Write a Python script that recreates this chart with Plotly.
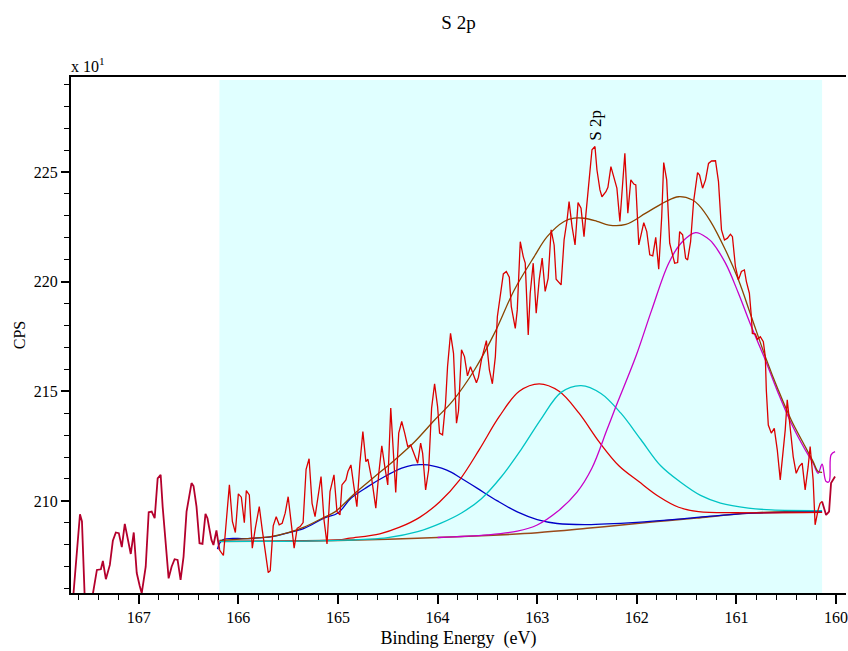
import plotly.graph_objects as go

# ---------------- data ----------------
# raw spectrum outside fitting region (left part)
be_left = [167.66, 167.59, 167.57, 167.54, 167.47, 167.42, 167.38, 167.36, 167.33, 167.29,
           167.26, 167.23, 167.20, 167.17, 167.14, 167.11, 167.08, 167.05, 167.02, 166.99,
           166.97, 166.93, 166.90, 166.87, 166.84, 166.81, 166.78, 166.76, 166.73, 166.70,
           166.67, 166.64, 166.61, 166.58, 166.55, 166.52, 166.47, 166.45, 166.42, 166.39,
           166.36, 166.33, 166.31, 166.27, 166.25, 166.22, 166.19]
cps_left = [205.5, 209.39, 209.06, 205.3, 205.5, 206.85, 206.88, 207.26, 206.43, 207.08,
            208.18, 208.56, 208.53, 207.89, 208.95, 208.34, 207.58, 208.56, 206.71, 206.12,
            205.79, 207.0, 209.48, 209.51, 209.21, 211.03, 211.19, 209.74, 208.14, 206.47,
            207.0, 207.34, 207.31, 206.40, 207.46, 209.51, 210.81, 210.68, 209.74, 208.07,
            208.04, 209.41, 209.21, 208.22, 207.99, 208.65, 207.77]

# raw spectrum inside the fitting region
be_data = [166.19, 166.17, 166.15, 166.12, 166.09, 166.06, 166.03, 166.00, 165.97, 165.94,
           165.92, 165.89, 165.86, 165.83, 165.79, 165.76, 165.73, 165.70, 165.68, 165.65,
           165.62, 165.59, 165.56, 165.53, 165.50, 165.47, 165.44, 165.41, 165.38, 165.35,
           165.32, 165.29, 165.26, 165.23, 165.20, 165.17, 165.14, 165.11, 165.08, 165.04,
           165.01, 164.98, 164.96, 164.92, 164.90, 164.87, 164.84, 164.81, 164.78, 164.75,
           164.72, 164.70, 164.66, 164.62, 164.59, 164.56, 164.53, 164.50, 164.47, 164.45,
           164.42, 164.39, 164.36, 164.33, 164.30, 164.27, 164.24, 164.20, 164.17, 164.15,
           164.12, 164.09, 164.06, 164.03, 164.00, 163.98, 163.95, 163.92, 163.90, 163.87,
           163.84, 163.81, 163.79, 163.76, 163.73, 163.70, 163.67, 163.64, 163.61, 163.59,
           163.56, 163.51, 163.48, 163.45, 163.42, 163.40, 163.37, 163.34, 163.31, 163.28,
           163.26, 163.22, 163.20, 163.17, 163.14, 163.12, 163.09, 163.07, 163.04, 163.01,
           162.98, 162.95, 162.92, 162.89, 162.86, 162.83, 162.81, 162.76, 162.73, 162.70,
           162.68, 162.65, 162.62, 162.59, 162.56, 162.53, 162.51, 162.48, 162.45, 162.42,
           162.40, 162.37, 162.35, 162.31, 162.29, 162.26, 162.23, 162.20, 162.17, 162.14,
           162.12, 162.09, 162.06, 162.03, 162.01, 161.98, 161.95, 161.93, 161.90, 161.87,
           161.84, 161.81, 161.78, 161.75, 161.73, 161.70, 161.67, 161.64, 161.62, 161.59,
           161.57, 161.54, 161.51, 161.49, 161.46, 161.43, 161.39, 161.37, 161.34, 161.31,
           161.28, 161.25, 161.21, 161.18, 161.15, 161.12, 161.09, 161.06, 161.04, 161.01,
           160.98, 160.95, 160.92, 160.90, 160.87, 160.85, 160.84, 160.81, 160.79, 160.76,
           160.73, 160.71, 160.70, 160.68, 160.65, 160.62, 160.59, 160.56, 160.54, 160.51,
           160.49, 160.46, 160.43, 160.40, 160.37, 160.34, 160.31, 160.28, 160.26, 160.23,
           160.21, 160.18, 160.16, 160.14]
cps_data = [207.77, 207.62, 207.51, 209.13, 210.73, 209.06, 208.56, 210.32, 210.17, 209.01,
            210.47, 210.27, 207.84, 208.75, 209.74, 208.68, 207.62, 206.73, 206.82, 208.86,
            209.28, 208.91, 208.98, 209.44, 210.19, 208.98, 207.84, 208.75, 208.83, 209.01,
            211.44, 211.92, 209.89, 209.28, 210.27, 211.11, 209.13, 208.04, 210.42, 211.19,
            209.51, 209.36, 210.73, 210.96, 211.34, 211.64, 210.65, 209.74, 211.72, 213.16,
            211.79, 211.90, 210.96, 209.67, 211.26, 212.51, 211.56, 210.73, 214.23, 212.48,
            210.38, 213.09, 213.62, 213.09, 212.48, 212.55, 212.17, 211.72, 212.63, 212.17,
            210.50, 211.41, 214.23, 215.34, 214.30, 213.09, 213.01, 214.45, 216.12, 217.64,
            216.73, 213.54, 214.10, 216.89, 216.58, 215.70, 216.12, 215.74, 215.39, 215.64,
            216.43, 217.31, 215.97, 215.34, 216.58, 218.40, 219.47, 220.35, 220.46, 220.20,
            218.86, 217.87, 218.71, 221.82, 221.14, 220.84, 217.57, 219.47, 220.84, 218.56,
            220.08, 221.07, 219.55, 220.15, 222.36, 221.67, 220.11, 219.85, 221.90, 222.81,
            223.65, 222.51, 221.67, 223.60, 223.35, 222.05, 223.12, 224.41, 226.01, 226.16,
            225.09, 224.18, 223.87, 224.10, 224.30, 225.24, 224.79, 224.26, 222.74, 224.86,
            225.85, 223.12, 224.64, 224.45, 224.41, 221.67, 222.36, 222.69, 222.28, 221.22,
            221.17, 222.02, 220.57, 222.96, 225.43, 224.64, 221.75, 221.14, 220.84, 220.87,
            222.28, 222.13, 221.07, 220.99, 221.82, 223.65, 224.97, 224.86, 224.26, 224.64,
            225.39, 225.50, 225.51, 224.56, 222.36, 221.90, 221.98, 222.16, 222.05, 220.68,
            220.08, 220.46, 220.53, 220.00, 219.47, 218.40, 217.64, 217.61, 217.37, 217.49,
            217.26, 216.58, 215.06, 213.46, 213.09, 213.31, 212.33, 210.96, 211.87, 213.24,
            214.61, 213.39, 212.02, 211.26, 211.56, 211.72, 210.50, 211.56, 212.48, 210.96,
            208.91, 209.59, 209.89, 209.97]

# raw spectrum outside fitting region (right part)
be_right = [160.14, 160.10, 160.07, 160.05, 160.01]
cps_right = [209.97, 209.36, 209.51, 210.81, 211.11]

# Shirley background
be_bg = [166.19, 165.5, 165.0, 164.5, 164.0, 163.5, 163.0, 162.5, 162.0, 161.7,
         161.4, 161.1, 160.8, 160.5, 160.14]
cps_bg = [208.15, 208.17, 208.20, 208.25, 208.33, 208.42, 208.55, 208.75, 208.97, 209.10,
          209.22, 209.36, 209.46, 209.50, 209.50]

# component 1 (blue)
be_c1 = [166.21, 166.16, 165.91, 165.66, 165.51, 165.34, 165.14, 165.00, 164.87, 164.70,
         164.53, 164.36, 164.25, 164.15, 164.05, 163.96, 163.86, 163.78, 163.60, 163.40,
         163.20, 163.00, 162.80, 162.50, 162.00, 161.50, 161.00, 160.50, 160.14]
cps_c1 = [207.80, 208.22, 208.28, 208.37, 208.53, 208.75, 209.21, 209.45, 210.12, 210.65,
          211.11, 211.49, 211.63, 211.65, 211.60, 211.49, 211.30, 211.08, 210.57, 210.00,
          209.50, 209.15, 208.97, 208.92, 209.02, 209.20, 209.40, 209.48, 209.50]

# component 2 (red)
be_c2 = [166.19, 165.00, 164.88, 164.58, 164.38, 164.18, 163.98, 163.78, 163.58, 163.38,
         163.18, 162.98, 162.78, 162.58, 162.38, 162.18, 161.98, 161.78, 161.58, 161.38,
         161.00, 160.14]
cps_c2 = [208.15, 208.22, 208.30, 208.50, 208.80, 209.25, 209.95, 210.95, 212.35, 213.85,
          215.00, 215.34, 215.00, 214.00, 212.70, 211.60, 210.88, 210.20, 209.71, 209.51,
          209.46, 209.48]

# component 3 (cyan)
be_c3 = [166.19, 165.00, 164.50, 164.20, 163.96, 163.76, 163.56, 163.36, 163.16, 162.96,
         162.76, 162.56, 162.36, 162.16, 161.96, 161.76, 161.56, 161.36, 161.16, 160.88,
         160.65, 160.14]
cps_c3 = [208.15, 208.20, 208.33, 208.60, 209.00, 209.45, 210.10, 211.10, 212.35, 213.74,
          214.95, 215.26, 214.90, 214.00, 212.80, 211.60, 210.85, 210.25, 209.90, 209.67,
          209.59, 209.56]

# component 4 (magenta)
be_c4 = [164.00, 163.50, 163.20, 163.00, 162.80, 162.60, 162.45, 162.30, 162.21, 162.01,
         161.85, 161.68, 161.55, 161.41, 161.29, 161.25, 161.11, 160.98, 160.85, 160.71,
         160.58, 160.45, 160.31, 160.23, 160.18, 160.14, 160.10, 160.07, 160.05, 160.01]
cps_c4 = [208.33, 208.45, 208.62, 208.90, 209.50, 210.40, 211.50, 213.24, 214.30, 216.58,
          218.71, 220.84, 221.78, 222.23, 221.98, 221.82, 220.84, 219.47, 217.95, 216.43,
          214.91, 213.54, 212.33, 211.72, 211.26, 211.67, 210.88, 210.88, 212.10, 212.25]

# envelope (brown)
be_env = [166.19, 165.90, 165.66, 165.50, 165.34, 165.14, 165.03, 164.83, 164.63, 164.43,
          164.23, 164.03, 163.85, 163.63, 163.43, 163.23, 163.03, 162.90, 162.73, 162.63,
          162.53, 162.40, 162.28, 162.11, 161.91, 161.71, 161.58, 161.44, 161.38, 161.26,
          161.11, 160.98, 160.85, 160.71, 160.58, 160.45, 160.31, 160.23, 160.18, 160.14]
cps_env = [208.20, 208.28, 208.38, 208.55, 208.80, 209.25, 209.50, 210.35, 211.11, 211.87,
           212.70, 213.69, 214.55, 215.97, 217.64, 219.62, 221.14, 222.05, 222.74, 222.89,
           222.89, 222.75, 222.58, 222.61, 223.12, 223.65, 223.87, 223.72, 223.50, 222.75,
           221.44, 220.08, 218.40, 216.58, 215.06, 213.69, 212.48, 211.79, 211.34, 211.30]

region = [166.19, 160.14]
x_range = [167.68, 159.90]
y_range = [205.8, 229.33]
y_ticks = [210, 215, 220, 225]
x_ticks = [167, 166, 165, 164, 163, 162, 161, 160]

FONT = "Liberation Serif, Times New Roman, serif"

fig = go.Figure()

def add(x, y, color, width=1.3, shape="linear"):
    fig.add_trace(go.Scatter(x=x, y=y, mode="lines",
                             line=dict(color=color, width=width, shape=shape),
                             hoverinfo="skip", showlegend=False))

add(be_bg, cps_bg, "#9a4a1a", 1.6, "spline")
add(be_c1, cps_c1, "#0000c8", 1.3, "spline")
add(be_c2, cps_c2, "#e00000", 1.3, "spline")
add(be_c3, cps_c3, "#00c4c4", 1.3, "spline")
add(be_c4, cps_c4, "#c800c8", 1.3, "spline")
add(be_env, cps_env, "#8b4500", 1.3, "spline")
add(be_left, cps_left, "#b4002c", 1.8)
add(be_right, cps_right, "#b4002c", 1.8)
add(be_data, cps_data, "#dc0000", 1.3)

fig.add_shape(type="rect", xref="x", yref="paper", x0=region[0], x1=region[1],
              y0=0, y1=0.994, fillcolor="#e0ffff", line=dict(width=0), layer="below")

fig.add_annotation(text="S 2p", x=162.41, y=226.35, xref="x", yref="y", textangle=-90,
                   showarrow=False, xanchor="center", yanchor="bottom",
                   font=dict(family=FONT, size=17, color="black"))
fig.add_annotation(text="x 10<sup>1</sup>", x=-0.002, y=1.0, xref="paper", yref="paper",
                   xanchor="left", yanchor="bottom", showarrow=False, yshift=0,
                   font=dict(family=FONT, size=16, color="black"))

fig.update_layout(
    width=848, height=651,
    margin=dict(l=71, r=0, t=77, b=58),
    paper_bgcolor="white", plot_bgcolor="white",
    title=dict(text="S 2p", x=0.5, xref="paper", xanchor="center", y=0.966, yanchor="middle",
               font=dict(family=FONT, size=19, color="black")),
    font=dict(family=FONT, size=16, color="black"),
    xaxis=dict(range=x_range, tickmode="array", tickvals=x_ticks,
               ticks="outside", ticklen=9, tickwidth=1.5, tickcolor="black",
               ticklabeloverflow="allow", tickfont=dict(family=FONT, size=16),
               minor=dict(dtick=0.2, ticks="outside", ticklen=5, tickwidth=1.2, tickcolor="black"),
               showline=True, linecolor="black", linewidth=2, mirror=True,
               showgrid=False, zeroline=False,
               title=dict(text="Binding Energy  (eV)", standoff=6,
                          font=dict(family=FONT, size=18))),
    yaxis=dict(range=y_range, tickmode="array", tickvals=y_ticks,
               ticks="outside", ticklen=8, tickwidth=1.5, tickcolor="black",
               tickfont=dict(family=FONT, size=16),
               minor=dict(dtick=1, ticks="outside", ticklen=5, tickwidth=1.2, tickcolor="black"),
               showline=True, linecolor="black", linewidth=2,
               showgrid=False, zeroline=False,
               title=dict(text="CPS", standoff=4, font=dict(family=FONT, size=16))),
)

fig.write_html("out.html", config={"displayModeBar": False},
               post_script="document.body.style.margin='0px';")
